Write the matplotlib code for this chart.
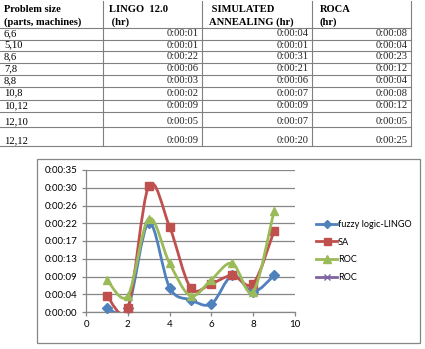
import numpy as np
import matplotlib
matplotlib.use("Agg")
import matplotlib.pyplot as plt
from matplotlib.path import Path
from matplotlib.patches import PathPatch, Rectangle
from matplotlib.lines import Line2D

# ---------------- data ----------------
problem_sizes = ["6,6", "5,10", "8,6", "7,8", "8,8", "10,8", "10,12", "12,10", "12,12"]
lingo_sec = [1, 1, 22, 6, 3, 2, 9, 5, 9]
sa_sec = [4, 1, 31, 21, 6, 7, 9, 7, 20]
roca_sec = [8, 4, 23, 12, 4, 8, 12, 5, 25]
x_index = [1, 2, 3, 4, 5, 6, 7, 8, 9]

header_col1 = ["Problem size", "(parts, machines)"]
header_col2 = ["LINGO  12.0", " (hr)"]
header_col3 = [" SIMULATED", "ANNEALING (hr)"]
header_col4 = ["ROCA", "(hr)"]

y_ticks = [0, 4.375, 8.75, 13.125, 17.5, 21.875, 26.25, 30.625, 35]
y_tick_labels = ["0:00:00", "0:00:04", "0:00:09", "0:00:13", "0:00:17",
                 "0:00:22", "0:00:26", "0:00:30", "0:00:35"]
x_ticks = [0, 2, 4, 6, 8, 10]

series_names = ["fuzzy logic-LINGO", "SA", "ROC", "ROC"]
series_colors = ["#4F81BD", "#C0504D", "#9BBB59", "#8064A2"]


def fmt(s):
    return "0:00:%02d" % s


W, H = 425, 349
fig = plt.figure(figsize=(W / 100, H / 100), dpi=100)

# overlay axes in pixel coordinates (for table & chart frame)
ov = fig.add_axes([0, 0, 1, 1])
ov.set_xlim(0, W)
ov.set_ylim(H, 0)
ov.axis("off")

# ---------------- table ----------------
line_c = "#808080"
row_lines = [28, 39.5, 51, 62.5, 74.5, 87, 99.5, 111.5, 127, 146]
col_lines = [103, 202, 312, 411]
for yl in row_lines:
    ov.plot([0, 411], [yl, yl], color=line_c, lw=0.8, zorder=1)
for xl in col_lines:
    ov.plot([xl, xl], [1, 146], color=line_c, lw=0.8, zorder=1)

serif = "Liberation Serif"
fs_t = 7.6
hx = [4, 109, 209, 320]
for hxi, hdr in zip(hx, [header_col1, header_col2, header_col3, header_col4]):
    ov.text(hxi, 10, hdr[0], fontsize=fs_t, fontweight="bold", family=serif,
            va="center", ha="left")
    ov.text(hxi, 22, hdr[1], fontsize=fs_t, fontweight="bold", family=serif,
            va="center", ha="left")

row_tops = row_lines[:-1]
row_bots = row_lines[1:]
right_x = [199, 309, 408]
for i, ps in enumerate(problem_sizes):
    top, bot = row_tops[i], row_bots[i]
    yc = bot - 5.5 if i >= 7 else (top + bot) / 2
    ov.text(4, yc, ps, fontsize=fs_t, family=serif, va="center", ha="left")
    for rx, vals in zip(right_x, [lingo_sec, sa_sec, roca_sec]):
        ov.text(rx, yc, fmt(vals[i]), fontsize=fs_t, family=serif,
                va="center", ha="right", color="#222222")

# chart frame
ov.add_patch(Rectangle((37, 159), 383, 184, fill=False, ec="#868686", lw=0.9))

# ---------------- chart ----------------
x0, x1 = 86, 295
yb, yt = 312, 170
ax = fig.add_axes([x0 / W, 1 - yb / H, (x1 - x0) / W, (yb - yt) / H])
ax.set_xlim(0, 10)
ax.set_ylim(0, 35)
ax.patch.set_alpha(0)
for s in ["top", "right"]:
    ax.spines[s].set_visible(False)
for s in ["left", "bottom"]:
    ax.spines[s].set_color("#868686")
    ax.spines[s].set_linewidth(0.9)
ax.set_yticks(y_ticks)
ax.set_yticklabels(y_tick_labels)
ax.set_xticks(x_ticks)
ax.set_xticklabels([str(t) for t in x_ticks])
cfont = "Lato"
ax.tick_params(axis="both", direction="out", length=3, width=0.9,
               color="#868686", labelsize=7, pad=3)
for lab in ax.get_xticklabels() + ax.get_yticklabels():
    lab.set_family(cfont)
ax.yaxis.grid(True, color="#868686", lw=0.9)
ax.set_axisbelow(True)


def smooth_path(xs, ys):
    pts = np.column_stack([xs, ys]).astype(float)
    n = len(pts)
    verts = [pts[0]]
    codes = [Path.MOVETO]
    for i in range(n - 1):
        p0 = pts[i - 1] if i > 0 else pts[i]
        p1 = pts[i]
        p2 = pts[i + 1]
        p3 = pts[i + 2] if i + 2 < n else pts[i + 1]
        c1 = p1 + (p2 - p0) / 6.0
        c2 = p2 - (p3 - p1) / 6.0
        verts += [c1, c2, p2]
        codes += [Path.CURVE4] * 3
    return Path(verts, codes)


markers = ["D", "s", "^", "x"]
msizes = [4.8, 5.6, 6.2, 5]
handles = []
for k, vals in enumerate([lingo_sec, sa_sec, roca_sec]):
    col = series_colors[k]
    patch = PathPatch(smooth_path(x_index, vals), fill=False, ec=col, lw=2.0,
                      capstyle="round", joinstyle="round", zorder=3 + k)
    ax.add_patch(patch)
    ax.plot(x_index, vals, linestyle="none", marker=markers[k], ms=msizes[k],
            color=col, mec=col, zorder=3.5 + k, clip_on=False)
for k in range(4):
    handles.append(Line2D([], [], color=series_colors[k], lw=2.0,
                          marker=markers[k], ms=msizes[k] * 0.9,
                          mec=series_colors[k]))

leg = fig.legend(handles, series_names, loc="center left",
                 bbox_to_anchor=(316 / W, 1 - 251 / H), frameon=False,
                 handlelength=2.3, handletextpad=0.1, labelspacing=0.95,
                 borderpad=0, borderaxespad=0, numpoints=1,
                 prop={"family": cfont, "size": 6.6})

fig.savefig("out.png", dpi=100)
